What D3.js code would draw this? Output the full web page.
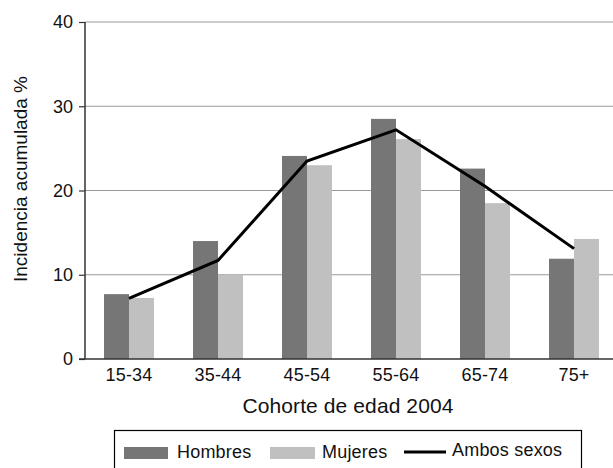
<!DOCTYPE html>
<html>
<head>
<meta charset="utf-8">
<script src="https://cdn.jsdelivr.net/npm/d3@7"></script>
<style>
  html, body { margin: 0; padding: 0; background: #fff; overflow: hidden; }
  svg { display: block; font-family: "Liberation Sans", Arial, Helvetica, sans-serif; }
</style>
</head>
<body>
<svg id="chart" width="613" height="468"></svg>
<script>
const categories = ["15-34", "35-44", "45-54", "55-64", "65-74", "75+"];
const hombres = [7.7, 14.0, 24.1, 28.5, 22.6, 11.9];
const mujeres = [7.25, 10.0, 23.0, 26.1, 18.5, 14.25];
const ambos = [7.2, 11.7, 23.5, 27.2, 20.5, 13.1];
const yTicks = [0, 10, 20, 30, 40];
const seriesNames = ["Hombres", "Mujeres", "Ambos sexos"];
const xTitle = "Cohorte de edad 2004";
const yTitle = "Incidencia acumulada %";

const colH = "#767676", colM = "#c0c0c0";
const svg = d3.select("#chart");

const x = d3.scaleBand().domain(categories).range([84.5, 618.5]).padding(0);
const y = d3.scaleLinear().domain([0, 40]).range([359, 22]);
const barW = 25;
const cx = c => x(c) + x.bandwidth() / 2;

// gridlines
svg.append("g").selectAll("line").data(yTicks.filter(t => t > 0)).join("line")
  .attr("x1", 85).attr("x2", 613)
  .attr("y1", d => y(d)).attr("y2", d => y(d))
  .attr("stroke", "#9a9a9a").attr("stroke-width", 1.2);

// bars
svg.append("g").selectAll("rect").data(categories).join("rect")
  .attr("x", (c) => cx(c) - barW).attr("width", barW)
  .attr("y", (c, i) => y(hombres[i])).attr("height", (c, i) => y(0) - y(hombres[i]))
  .attr("fill", colH);
svg.append("g").selectAll("rect").data(categories).join("rect")
  .attr("x", (c) => cx(c)).attr("width", barW)
  .attr("y", (c, i) => y(mujeres[i])).attr("height", (c, i) => y(0) - y(mujeres[i]))
  .attr("fill", colM);

// y axis
const yAxis = d3.axisLeft(y).tickValues(yTicks).tickSize(6).tickPadding(6).tickFormat(d3.format("d"));
const gy = svg.append("g").attr("transform", "translate(85,0)").call(yAxis);
gy.select(".domain").attr("stroke", "#333").attr("stroke-width", 1.5).attr("d", `M0,${y(40)}V${y(0)}`);
gy.selectAll(".tick line").attr("stroke", "#333").attr("stroke-width", 1.2);
gy.selectAll(".tick text").attr("font-size", 18).attr("fill", "#111").attr("font-family", null);

// x axis
const xAxis = d3.axisBottom(x).tickSize(0).tickPadding(9);
const gx = svg.append("g").attr("transform", `translate(0,${y(0)})`).call(xAxis);
gx.select(".domain").attr("stroke", "#333").attr("stroke-width", 1.5).attr("d", "M79,0H613");
gx.selectAll(".tick text").attr("font-size", 18).attr("fill", "#111").attr("font-family", null)
  .attr("letter-spacing", 0.2);

// line
const line = d3.line().x((d, i) => cx(categories[i])).y(d => y(d));
svg.append("path").datum(ambos).attr("d", line)
  .attr("fill", "none").attr("stroke", "#000").attr("stroke-width", 3).attr("stroke-linejoin", "miter");

// axis titles
svg.append("text").attr("x", 348).attr("y", 413).attr("text-anchor", "middle")
  .attr("font-size", 21).attr("letter-spacing", 0.1).attr("fill", "#111").text(xTitle);
svg.append("text").attr("transform", "translate(27,179) rotate(-90)").attr("text-anchor", "middle")
  .attr("font-size", 19).attr("fill", "#111").text(yTitle);

// legend
const lg = svg.append("g");
lg.append("rect").attr("x", 114.5).attr("y", 430.5).attr("width", 467).attr("height", 50)
  .attr("fill", "none").attr("stroke", "#000").attr("stroke-width", 1.2);
lg.append("rect").attr("x", 124).attr("y", 447).attr("width", 44).attr("height", 12).attr("fill", colH);
lg.append("text").attr("x", 177).attr("y", 458).attr("font-size", 18).attr("letter-spacing", 0.2).attr("fill", "#111").text(seriesNames[0]);
lg.append("rect").attr("x", 270).attr("y", 447).attr("width", 45).attr("height", 12).attr("fill", colM);
lg.append("text").attr("x", 322).attr("y", 458).attr("font-size", 18).attr("letter-spacing", 0.2).attr("fill", "#111").text(seriesNames[1]);
lg.append("line").attr("x1", 404).attr("x2", 446).attr("y1", 452).attr("y2", 452).attr("stroke", "#000").attr("stroke-width", 3);
lg.append("text").attr("x", 452).attr("y", 456).attr("font-size", 18).attr("letter-spacing", 0.2).attr("fill", "#111").text(seriesNames[2]);
</script>
</body>
</html>
